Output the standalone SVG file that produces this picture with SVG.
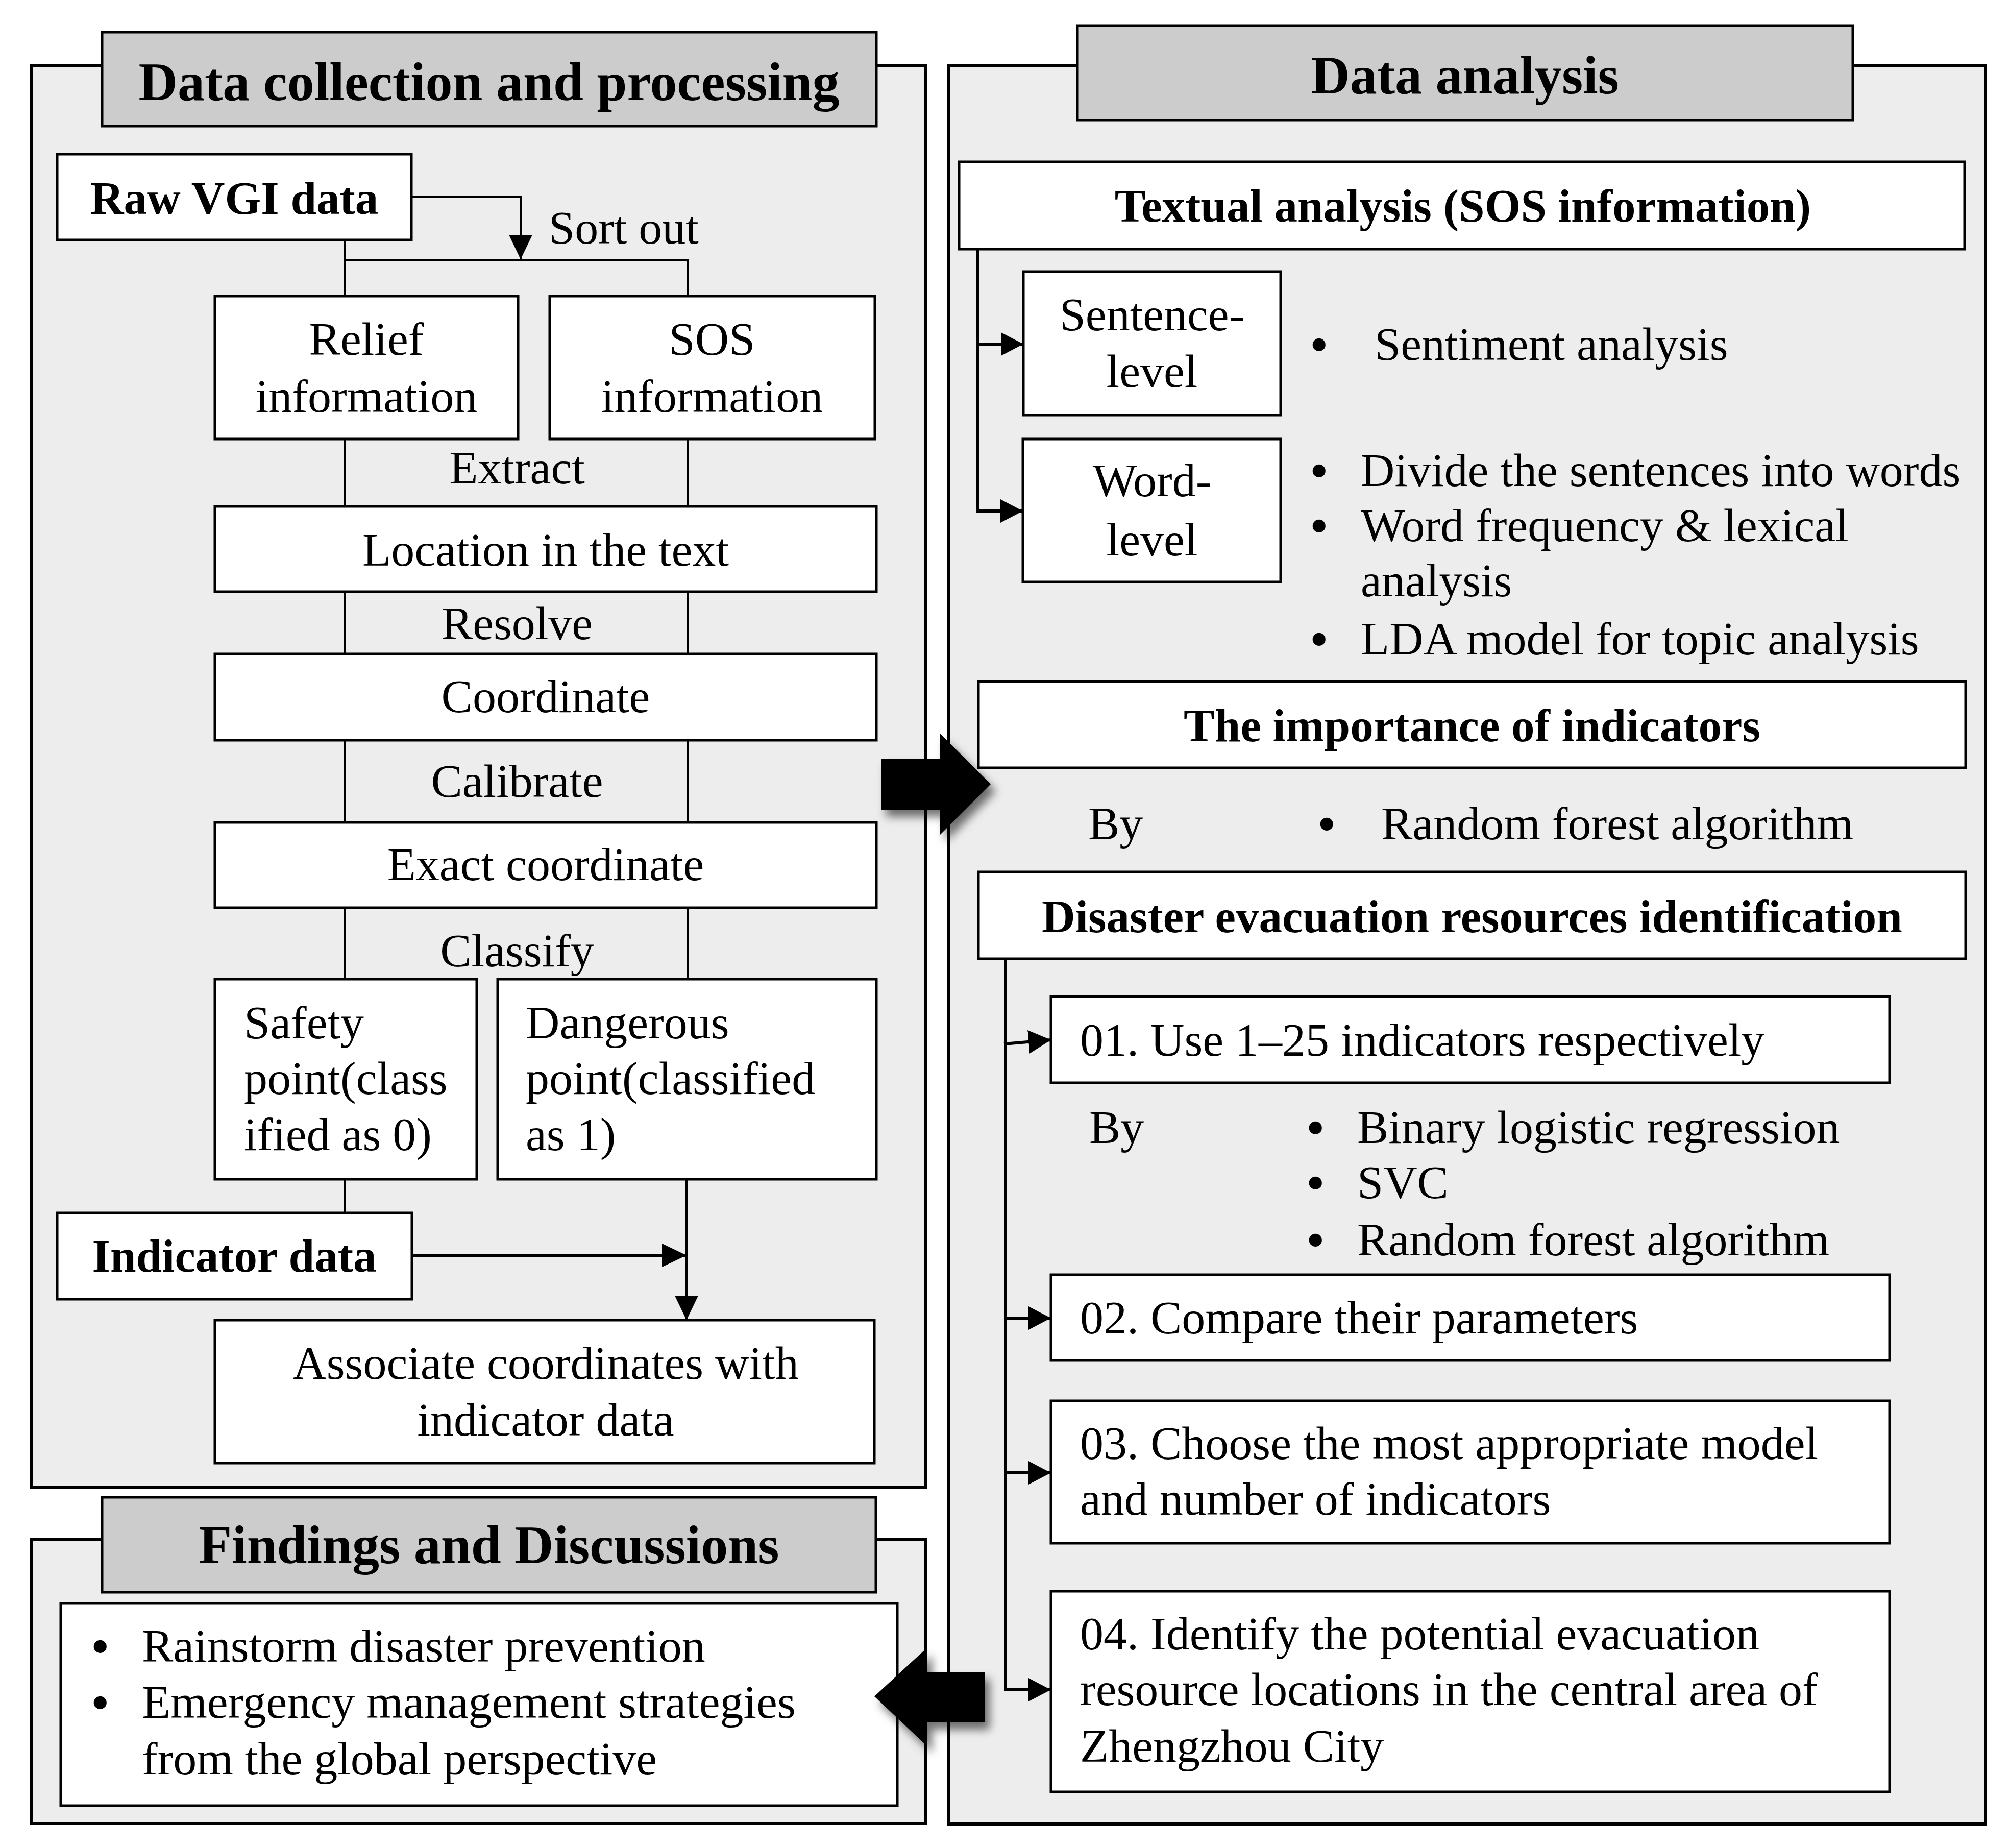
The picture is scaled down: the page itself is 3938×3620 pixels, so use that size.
<svg xmlns="http://www.w3.org/2000/svg" width="3938" height="3620" viewBox="0 0 3938 3620">
<defs>
<style>
.panel{fill:#ededed;stroke:#000;stroke-width:6}
.title{fill:#cccccc;stroke:#000;stroke-width:5}
.box{fill:#fff;stroke:#000;stroke-width:5}
.t{font-family:"Liberation Serif","Times New Roman",serif;font-size:92px;fill:#000}
.bl{font-family:"Liberation Serif","Times New Roman",serif;font-size:93px;font-weight:bold;fill:#000}
.b{font-family:"Liberation Serif","Times New Roman",serif;font-size:91px;font-weight:bold;fill:#000}
.h{font-family:"Liberation Serif","Times New Roman",serif;font-size:106px;font-weight:bold;fill:#000}
.c{text-anchor:middle}
.thin{fill:none;stroke:#000;stroke-width:4}
.conn{fill:none;stroke:#000;stroke-width:6}
.big{fill:#000}
</style>
<marker id="ah" viewBox="0 0 48 46" refX="48" refY="23" markerWidth="48" markerHeight="46" markerUnits="userSpaceOnUse" orient="auto">
<path d="M0,0 L48,23 L0,46 z" fill="#000"/>
</marker>
<marker id="ah2" viewBox="0 0 44 46" refX="44" refY="23" markerWidth="44" markerHeight="46" markerUnits="userSpaceOnUse" orient="auto">
<path d="M0,0 L44,23 L0,46 z" fill="#000"/>
</marker>
<filter id="sh" x="-30%" y="-30%" width="160%" height="160%">
<feDropShadow dx="10" dy="14" stdDeviation="9" flood-color="#000" flood-opacity="0.55"/>
</filter>
</defs>
<rect width="3938" height="3620" fill="#fff"/>

<!-- Panels -->
<g id="panel-collection">
<rect class="panel" x="61" y="128" width="1752" height="2785"/>
<rect class="title" x="200" y="63" width="1517" height="184"/>
<text class="h c" x="958" y="196">Data collection and processing</text>
</g>
<g id="panel-analysis">
<rect class="panel" x="1858" y="128" width="2032" height="3445"/>
<rect class="title" x="2111" y="50" width="1519" height="186"/>
<text class="h c" x="2870" y="183">Data analysis</text>
</g>
<g id="panel-findings">
<rect class="panel" x="61" y="3016" width="1753" height="556"/>
<rect class="title" x="200" y="2933" width="1516" height="186"/>
<text class="h c" x="958" y="3062">Findings and Discussions</text>
</g>

<!-- Left nodes -->
<g id="raw-vgi">
<rect class="box" x="112" y="302" width="694" height="168"/>
<text class="b c" x="459" y="419">Raw VGI data</text>
</g>
<text class="t" x="1075" y="477">Sort out</text>
<g id="relief">
<rect class="box" x="421" y="580" width="594" height="280"/>
<text class="t c" x="718" y="695">Relief</text>
<text class="t c" x="718" y="807">information</text>
</g>
<g id="sos">
<rect class="box" x="1077" y="580" width="637" height="280"/>
<text class="t c" x="1395" y="695">SOS</text>
<text class="t c" x="1395" y="807">information</text>
</g>
<text class="t c" x="1013" y="947">Extract</text>
<g id="location">
<rect class="box" x="421" y="992" width="1296" height="167"/>
<text class="t c" x="1069" y="1108">Location in the text</text>
</g>
<text class="t c" x="1013" y="1252">Resolve</text>
<g id="coordinate">
<rect class="box" x="421" y="1281" width="1296" height="169"/>
<text class="t c" x="1069" y="1395">Coordinate</text>
</g>
<text class="t c" x="1013" y="1561">Calibrate</text>
<g id="exact">
<rect class="box" x="421" y="1611" width="1296" height="167"/>
<text class="t c" x="1069" y="1724">Exact coordinate</text>
</g>
<text class="t c" x="1013" y="1893">Classify</text>
<g id="safety">
<rect class="box" x="421" y="1918" width="513" height="392"/>
<text class="t" x="478" y="2034">Safety</text>
<text class="t" x="478" y="2143">point(class</text>
<text class="t" x="478" y="2253">ified as 0)</text>
</g>
<g id="dangerous">
<rect class="box" x="975" y="1918" width="742" height="392"/>
<text class="t" x="1030" y="2034">Dangerous</text>
<text class="t" x="1030" y="2143">point(classified</text>
<text class="t" x="1030" y="2253">as 1)</text>
</g>
<g id="indicator">
<rect class="box" x="112" y="2376" width="695" height="169"/>
<text class="b c" x="459" y="2491">Indicator data</text>
</g>
<g id="associate">
<rect class="box" x="421" y="2586" width="1292" height="280"/>
<text class="t c" x="1069" y="2701">Associate coordinates with</text>
<text class="t c" x="1069" y="2812">indicator data</text>
</g>
<g id="findings">
<rect class="box" x="119" y="3141" width="1639" height="396"/>
<text class="bl" x="180" y="3256">•</text>
<text class="t" x="278" y="3255">Rainstorm disaster prevention</text>
<text class="bl" x="180" y="3366">•</text>
<text class="t" x="278" y="3365">Emergency management strategies</text>
<text class="t" x="278" y="3476">from the global perspective</text>
</g>

<!-- Right nodes -->
<g id="textual">
<rect class="box" x="1879" y="317" width="1970" height="171"/>
<text class="b c" x="2866" y="434">Textual analysis (SOS information)</text>
</g>
<g id="sentence">
<rect class="box" x="2005" y="532" width="504" height="281"/>
<text class="t c" x="2257" y="647">Sentence-</text>
<text class="t c" x="2257" y="758">level</text>
</g>
<text class="bl" x="2568" y="706">•</text>
<text class="t" x="2693" y="705">Sentiment analysis</text>
<g id="word">
<rect class="box" x="2004" y="860" width="505" height="280"/>
<text class="t c" x="2257" y="972">Word-</text>
<text class="t c" x="2257" y="1088">level</text>
</g>
<text class="bl" x="2568" y="953">•</text>
<text class="t" x="2666" y="952">Divide the sentences into words</text>
<text class="bl" x="2568" y="1061">•</text>
<text class="t" x="2666" y="1060">Word frequency &amp; lexical</text>
<text class="t" x="2666" y="1168">analysis</text>
<text class="bl" x="2568" y="1283">•</text>
<text class="t" x="2666" y="1282">LDA model for topic analysis</text>
<g id="importance">
<rect class="box" x="1917" y="1335" width="1934" height="169"/>
<text class="b c" x="2884" y="1452">The importance of indicators</text>
</g>
<text class="t" x="2132" y="1644">By</text>
<text class="bl" x="2583" y="1645">•</text>
<text class="t" x="2706" y="1644">Random forest algorithm</text>
<g id="disaster">
<rect class="box" x="1917" y="1708" width="1934" height="170"/>
<text class="b c" x="2884" y="1826">Disaster evacuation resources identification</text>
</g>
<g id="step01">
<rect class="box" x="2059" y="1952" width="1643" height="169"/>
<text class="t" x="2116" y="2068">01. Use 1–25 indicators respectively</text>
</g>
<text class="t" x="2134" y="2239">By</text>
<text class="bl" x="2561" y="2240">•</text>
<text class="t" x="2659" y="2239">Binary logistic regression</text>
<text class="bl" x="2561" y="2348">•</text>
<text class="t" x="2659" y="2347">SVC</text>
<text class="bl" x="2561" y="2460">•</text>
<text class="t" x="2659" y="2459">Random forest algorithm</text>
<g id="step02">
<rect class="box" x="2059" y="2497" width="1643" height="168"/>
<text class="t" x="2116" y="2612">02. Compare their parameters</text>
</g>
<g id="step03">
<rect class="box" x="2059" y="2744" width="1643" height="279"/>
<text class="t" x="2116" y="2858">03. Choose the most appropriate model</text>
<text class="t" x="2116" y="2967">and number of indicators</text>
</g>
<g id="step04">
<rect class="box" x="2059" y="3117" width="1643" height="393"/>
<text class="t" x="2116" y="3231">04. Identify the potential evacuation</text>
<text class="t" x="2116" y="3340">resource locations in the central area of</text>
<text class="t" x="2116" y="3451">Zhengzhou City</text>
</g>

<!-- Connectors -->
<g id="connectors">
<path class="thin" d="M806,385 H1020 V508" marker-end="url(#ah)"/>
<path class="thin" d="M676,470 V580 M676,510 H1347 V580"/>
<path class="thin" d="M676,860 V992 M1347,860 V992"/>
<path class="thin" d="M676,1159 V1281 M1347,1159 V1281"/>
<path class="thin" d="M676,1450 V1611 M1347,1450 V1611"/>
<path class="thin" d="M676,1778 V1918 M1347,1778 V1918"/>
<path class="thin" d="M676,2310 V2376"/>
<path class="conn" d="M807,2459 H1345" marker-end="url(#ah)"/>
<path class="conn" d="M1345,2310 V2586" marker-end="url(#ah)"/>

<path class="conn" d="M1916,488 V1001"/>
<path class="conn" d="M1913,674 H2005" marker-end="url(#ah2)"/>
<path class="conn" d="M1913,1001 H2004" marker-end="url(#ah2)"/>

<path class="conn" d="M1970,1878 V3310"/>
<path class="conn" d="M1967,2045 L2059,2037" marker-end="url(#ah2)"/>
<path class="conn" d="M1967,2582 H2059" marker-end="url(#ah2)"/>
<path class="conn" d="M1967,2885 H2059" marker-end="url(#ah2)"/>
<path class="conn" d="M1967,3310 H2059" marker-end="url(#ah2)"/>

<polygon class="big" filter="url(#sh)" points="1726,1487 1842,1487 1842,1437 1941,1536 1842,1635 1842,1586 1726,1586"/>
<polygon class="big" filter="url(#sh)" points="1929,3275 1816,3275 1816,3228 1713,3323 1816,3420 1816,3374 1929,3374"/>
</g>
</svg>
